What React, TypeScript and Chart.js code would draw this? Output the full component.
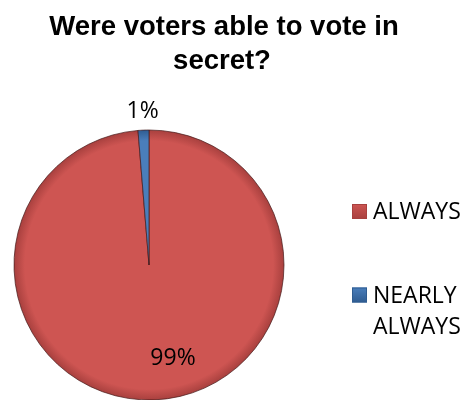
import React, { useEffect, useRef } from "react";
import { Chart, registerables } from "chart.js";

Chart.register(...registerables);

const TITLE_LINES = ["Were voters able to vote in", "secret?"];
const CATEGORIES = ["ALWAYS", "NEARLY ALWAYS"];
const VALUES = [98.7, 1.3];
const COLORS = ["#CE5552", "#4A7EBB"];
const EDGE_COLORS = ["#A8403E", "#2F5C91"];

const LABEL_FONT = '23px "Open Sans", sans-serif';
const TITLE_FONT = 'bold 27.5px "Liberation Sans", Arial, sans-serif';

function wrapText(ctx: CanvasRenderingContext2D, text: string, maxWidth: number): string[] {
  const words = text.split(" ");
  const lines: string[] = [];
  let cur = "";
  for (const w of words) {
    const t = cur ? cur + " " + w : w;
    if (cur && ctx.measureText(t).width > maxWidth) {
      lines.push(cur);
      cur = w;
    } else cur = t;
  }
  if (cur) lines.push(cur);
  return lines;
}

const overlayPlugin = {
  id: "overlay",
  afterDraw(chart: any) {
    const ctx: CanvasRenderingContext2D = chart.ctx;
    ctx.save();
    // Title
    ctx.fillStyle = "#000";
    ctx.font = TITLE_FONT;
    ctx.textAlign = "center";
    ctx.textBaseline = "alphabetic";
    ctx.fillText(TITLE_LINES[0], 224, 35);
    ctx.fillText(TITLE_LINES[1], 222, 69);

    // Data labels
    const meta = chart.getDatasetMeta(0);
    const total = VALUES.reduce((a, b) => a + b, 0);
    ctx.font = LABEL_FONT;
    meta.data.forEach((arc: any, i: number) => {
      const p = arc.getProps(["x", "y", "startAngle", "endAngle", "outerRadius"], true);
      const mid = (p.startAngle + p.endAngle) / 2;
      const pct = Math.round((VALUES[i] / total) * 100) + "%";
      let px: number, py: number;
      if (i === 0) {
        const d = p.outerRadius * 0.68;
        px = p.x + Math.cos(mid) * d + p.outerRadius * 0.15;
        py = p.y + Math.sin(mid) * d;
      } else {
        const d = p.outerRadius + 20;
        px = p.x + Math.cos(mid) * d;
        py = p.y + Math.sin(mid) * d;
      }
      ctx.textAlign = "center";
      ctx.fillText(pct, px, py + 7.8);
    });

    // Legend
    const boxX = 352;
    const box = 15;
    const textX = 373;
    const lineH = 31;
    let baseline = 219;
    CATEGORIES.forEach((cat, i) => {
      ctx.font = LABEL_FONT;
      const lines = wrapText(ctx, cat, 95);
      const by = baseline - 15;
      const g = ctx.createLinearGradient(0, by, 0, by + box);
      g.addColorStop(0, COLORS[i]);
      g.addColorStop(1, EDGE_COLORS[i]);
      ctx.fillStyle = g;
      ctx.fillRect(boxX, by, box, box);
      ctx.strokeStyle = EDGE_COLORS[i];
      ctx.lineWidth = 1;
      ctx.strokeRect(boxX + 0.5, by + 0.5, box - 1, box - 1);
      ctx.fillStyle = "#000";
      ctx.textAlign = "left";
      lines.forEach((ln, j) => ctx.fillText(ln, textX, baseline + j * lineH));
      baseline += (lines.length - 1) * lineH + 83.5;
    });
    ctx.restore();
  },
};

export default function App() {
  const ref = useRef<HTMLCanvasElement | null>(null);
  useEffect(() => {
    if (!ref.current) return;
    const chart = new Chart(ref.current, {
      type: "pie",
      data: {
        labels: CATEGORIES,
        datasets: [
          {
            data: VALUES,
            backgroundColor: (c: any) => {
              const chart = c.chart;
              const area = chart.chartArea;
              const base = COLORS[c.dataIndex % COLORS.length];
              if (!area) return base;
              const cx = (area.left + area.right) / 2;
              const cy = (area.top + area.bottom) / 2;
              const g = chart.ctx.createRadialGradient(cx, cy, 0, cx, cy, 135);
              g.addColorStop(0, base);
              g.addColorStop(0.92, base);
              g.addColorStop(1, EDGE_COLORS[c.dataIndex % EDGE_COLORS.length]);
              return g;
            },
            borderColor: "rgba(70,25,25,0.7)",
            borderWidth: 1,
          },
        ],
      },
      options: {
        animation: false,
        responsive: true,
        maintainAspectRatio: false,
        radius: 135,
        layout: { padding: { left: 14, right: 182, top: 130, bottom: 0 } },
        plugins: {
          legend: { display: false },
          title: { display: false },
          tooltip: { enabled: false },
        },
      } as any,
      plugins: [overlayPlugin],
    });
    return () => chart.destroy();
  }, []);
  return (
    <div style={{ position: "absolute", left: 0, top: 0, width: 466, height: 400, background: "#fff" }}>
      <canvas ref={ref} />
    </div>
  );
}
